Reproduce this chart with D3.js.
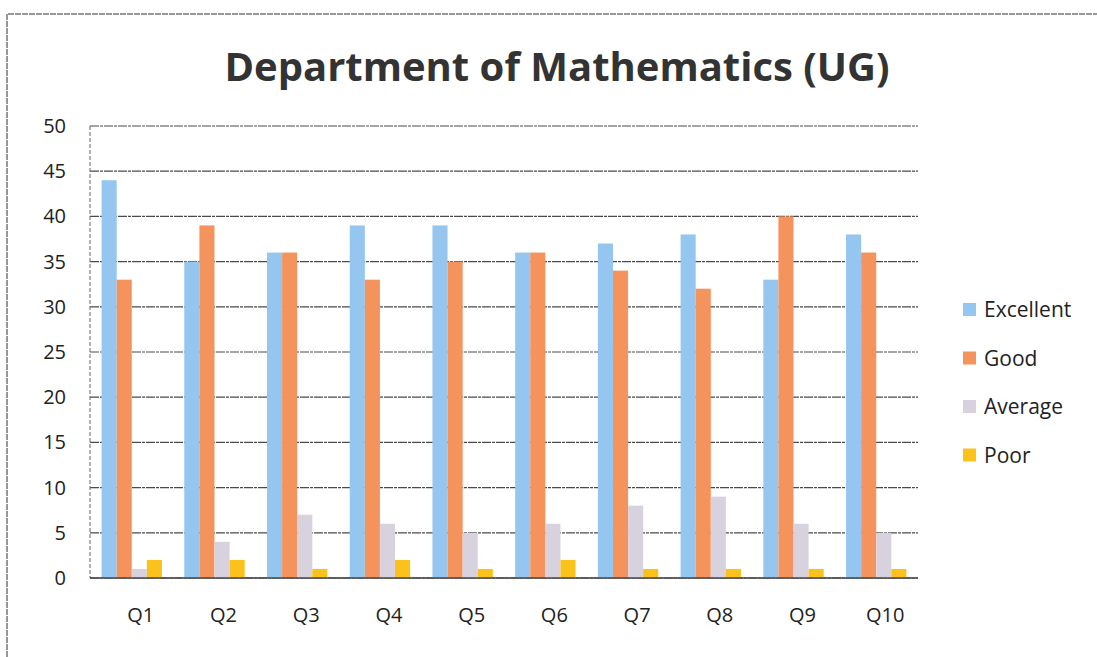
<!DOCTYPE html>
<html>
<head>
<meta charset="utf-8">
<script src="https://cdn.jsdelivr.net/npm/d3@7"></script>
<style>
  body { margin: 0; background: #fff; }
  svg { font-family: "Open Sans", "Liberation Sans", sans-serif; }
</style>
</head>
<body>
<div id="chart"></div>
<script>
// DATA
var questions = ["Q1", "Q2", "Q3", "Q4", "Q5", "Q6", "Q7", "Q8", "Q9", "Q10"];
var seriesNames = ["Excellent", "Good", "Average", "Poor"];
var excellent = [44, 35, 36, 39, 39, 36, 37, 38, 33, 38];
var good = [33, 39, 36, 33, 35, 36, 34, 32, 40, 36];
var average = [1, 4, 7, 6, 5, 6, 8, 9, 6, 5];
var poor = [2, 2, 1, 2, 1, 2, 1, 1, 1, 1];
var yTicks = [0, 5, 10, 15, 20, 25, 30, 35, 40, 45, 50];

var colors = ["#95c6ef", "#f5935c", "#d8d2df", "#fbc21c"];
var seriesValues = [excellent, good, average, poor];

var w = 1097;
var h = 657;
var plotLeft = 90, plotRight = 918, plotTop = 126, plotBottom = 578;

var svg = d3.select("#chart").append("svg").attr("width", w).attr("height", h);

// outer frame
svg.append("path")
  .attr("d", "M7,657 V14 H1097")
  .attr("fill", "none")
  .attr("stroke", "#777")
  .attr("stroke-width", 1.5)
  .attr("stroke-dasharray", "6,1");

// SCALES
var xScale = d3.scaleBand().domain(questions).range([plotLeft, plotRight]).paddingInner(0.27).paddingOuter(0.14);
var xInner = d3.scaleBand().domain(seriesNames).range([0, xScale.bandwidth()]);
var yScale = d3.scaleLinear().domain([0, 50]).range([plotBottom, plotTop]);

// gridlines
svg.append("g")
  .selectAll("line")
  .data(yTicks)
  .enter()
  .append("line")
  .attr("x1", plotLeft)
  .attr("x2", plotRight)
  .attr("y1", function (d) { return yScale(d); })
  .attr("y2", function (d) { return yScale(d); })
  .attr("stroke", "#4a4a4a")
  .attr("stroke-width", 1.2)
  .attr("stroke-dasharray", "9,1,3,1");

// left axis line
svg.append("line")
  .attr("x1", plotLeft).attr("x2", plotLeft)
  .attr("y1", plotTop).attr("y2", plotBottom)
  .attr("stroke", "#666")
  .attr("stroke-dasharray", "4,2");

// BARS
var groups = svg.selectAll("g.q")
  .data(questions)
  .enter()
  .append("g")
  .attr("class", "q")
  .attr("transform", function (d) { return "translate(" + xScale(d) + ",0)"; });

groups.selectAll("rect")
  .data(function (d, i) {
    return seriesNames.map(function (s, j) { return { s: s, v: seriesValues[j][i], c: colors[j] }; });
  })
  .enter()
  .append("rect")
  .attr("x", function (d) { return xInner(d.s); })
  .attr("width", xInner.bandwidth())
  .attr("y", function (d) { return yScale(d.v); })
  .attr("height", function (d) { return plotBottom - yScale(d.v); })
  .attr("fill", function (d) { return d.c; });

// bottom axis line
svg.append("line")
  .attr("x1", plotLeft).attr("x2", plotRight)
  .attr("y1", plotBottom).attr("y2", plotBottom)
  .attr("stroke", "#444")
  .attr("stroke-width", 1.5);

// AXES
var yAxis = d3.axisLeft(yScale).tickValues(yTicks).tickSize(0).tickPadding(24);
var yg = svg.append("g").attr("transform", "translate(" + plotLeft + ",0)").call(yAxis);
yg.select(".domain").remove();
yg.selectAll("text").attr("font-size", "20px").attr("fill", "#222").attr("font-family", "Open Sans, sans-serif");

var xAxis = d3.axisBottom(xScale).tickSize(0).tickPadding(30);
var xg = svg.append("g").attr("transform", "translate(0," + plotBottom + ")").call(xAxis);
xg.select(".domain").remove();
xg.selectAll("text").attr("font-size", "20px").attr("fill", "#222").attr("dx", "9px").attr("font-family", "Open Sans, sans-serif");

// TITLE
svg.append("text")
  .attr("x", 557)
  .attr("y", 81)
  .attr("text-anchor", "middle")
  .attr("font-size", "40px")
  .attr("font-weight", "bold")
  .attr("fill", "#333")
  .text("Department of Mathematics (UG)");

// LEGEND
var legend = svg.selectAll("g.legend")
  .data(seriesNames)
  .enter()
  .append("g")
  .attr("class", "legend")
  .attr("transform", function (d, i) { return "translate(963," + (309 + i * 48.5) + ")"; });

legend.append("rect")
  .attr("x", 0).attr("y", -6)
  .attr("width", 13).attr("height", 13)
  .attr("fill", function (d, i) { return colors[i]; });

legend.append("text")
  .attr("x", 21)
  .attr("y", 8)
  .attr("font-size", "21px")
  .attr("fill", "#222")
  .text(function (d) { return d; });
</script>
</body>
</html>
